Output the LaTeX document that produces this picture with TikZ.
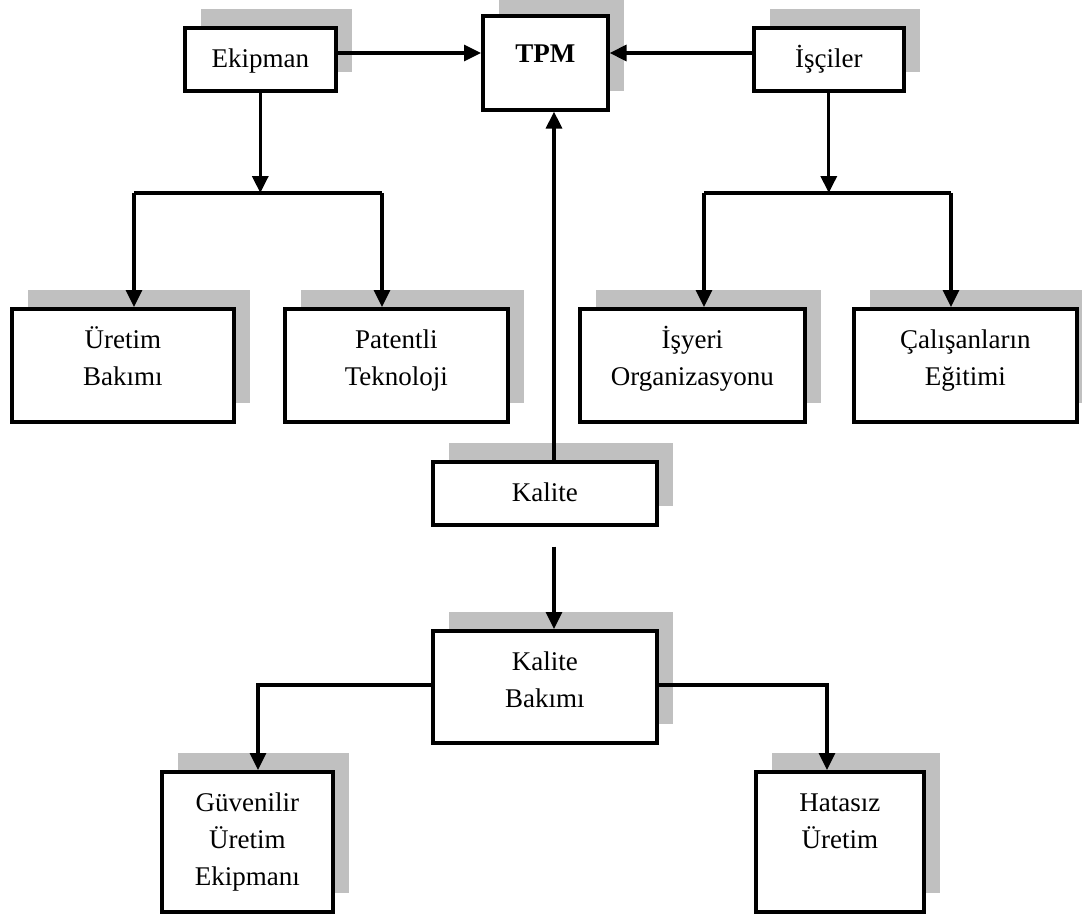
\documentclass[tikz,border=0pt]{standalone}
\usepackage{fontspec}
\setmainfont{Liberation Serif}
\usetikzlibrary{arrows.meta,shadows,calc}
\definecolor{shadowgray}{RGB}{192,192,192}
% stacked, centred lines whose baseline is the first line's baseline
\newcommand\boxlines[1]{\begin{tabular}[t]{@{}c@{}}#1\end{tabular}}
\tikzset{
  box/.style={draw, line width=3.6pt, fill=white, inner sep=0pt, anchor=north west,
    general shadow={fill=shadowgray, shadow xshift=16pt, shadow yshift=19pt}},
  boxtext/.style={anchor=base, inner sep=0pt},
  conn/.style={line width=3.1pt},
  arr/.style={conn, -{Triangle[length=17pt, width=16pt]}},
}
\begin{document}
\begin{tikzpicture}[x=1pt, y=-1pt, font=\fontsize{27}{37}\selectfont]
\path[use as bounding box, fill=white] (0,0) rectangle (1082,916);

% top row
\node[box, minimum width=151pt, minimum height=63pt] (ekipman) at (183,26) {};
\node[box, minimum width=125pt, minimum height=94pt] (tpm) at (481,14) {};
\node[box, minimum width=150pt, minimum height=63pt] (isciler) at (752,26) {};
% second row
\node[box, minimum width=222pt, minimum height=113pt] (uretim) at (10,307) {};
\node[box, minimum width=223pt, minimum height=113pt] (patentli) at (283,307) {};
\node[box, minimum width=225pt, minimum height=113pt] (isyeri) at (578,307) {};
\node[box, minimum width=223pt, minimum height=113pt] (calisan) at (852,307) {};
% quality branch
\node[box, minimum width=224pt, minimum height=63pt] (kalite) at (431,460) {};
\node[box, minimum width=224pt, minimum height=112pt] (kbakim) at (431,629) {};
\node[box, minimum width=171pt, minimum height=140pt] (guven) at (160,770) {};
\node[box, minimum width=168pt, minimum height=140pt] (hatasiz) at (754,770) {};

% box texts, set from the top of each box
\node[boxtext] (ekipman-t) at ([yshift=-41pt]ekipman.north) {\boxlines{Ekipman}};
\node[boxtext] (tpm-t) at ([yshift=-48pt]tpm.north) {\boxlines{\textbf{TPM}}};
\node[boxtext] (isciler-t) at ([yshift=-41pt]isciler.north) {\boxlines{İşçiler}};
\node[boxtext] (uretim-t) at ([yshift=-41pt]uretim.north) {\boxlines{Üretim\\Bakımı}};
\node[boxtext] (patentli-t) at ([yshift=-41pt]patentli.north) {\boxlines{Patentli\\Teknoloji}};
\node[boxtext] (isyeri-t) at ([yshift=-41pt]isyeri.north) {\boxlines{İşyeri\\Organizasyonu}};
\node[boxtext] (calisan-t) at ([yshift=-41pt]calisan.north) {\boxlines{Çalışanların\\Eğitimi}};
\node[boxtext] (kalite-t) at ([yshift=-41pt]kalite.north) {\boxlines{Kalite}};
\node[boxtext] (kbakim-t) at ([yshift=-41pt]kbakim.north) {\boxlines{Kalite\\Bakımı}};
\node[boxtext] (guven-t) at ([yshift=-41pt]guven.north) {\boxlines{Güvenilir\\Üretim\\Ekipmanı}};
\node[boxtext] (hatasiz-t) at ([yshift=-41pt]hatasiz.north) {\boxlines{Hatasız\\Üretim}};

% routing points
\coordinate (topy) at (0,53);
\coordinate (ekL) at (134,193);
\coordinate (ekR) at (382,193);
\coordinate (isL) at (704,193);
\coordinate (isR) at (951,193);
\coordinate (kx) at (554,0);
\coordinate (kbL) at (258,685);
\coordinate (kbR) at (827,685);

% into TPM
\draw[arr] (ekipman.east |- topy) -- (tpm.west |- topy);
\draw[arr] (isciler.west |- topy) -- (tpm.east |- topy);
\draw[arr] (kx |- kalite.north) -- (kx |- tpm.south);

% equipment branch
\draw[arr] (ekipman.south) -- (ekipman.south |- ekL);
\draw[conn] (ekL) -- (ekR);
\draw[arr] (ekL) -- (ekL |- uretim.north);
\draw[arr] (ekR) -- (ekR |- patentli.north);

% workers branch
\draw[arr] (isciler.south) -- (isciler.south |- isL);
\draw[conn] (isL) -- (isR);
\draw[arr] (isL) -- (isL |- isyeri.north);
\draw[arr] (isR) -- (isR |- calisan.north);

% quality branch
\draw[arr] ($(kx |- kalite.south)+(0,20)$) -- (kx |- kbakim.north);
\draw[arr] (kbakim.west |- kbL) -- (kbL) -- (kbL |- guven.north);
\draw[arr] (kbakim.east |- kbR) -- (kbR) -- (kbR |- hatasiz.north);
\end{tikzpicture}
\end{document}
